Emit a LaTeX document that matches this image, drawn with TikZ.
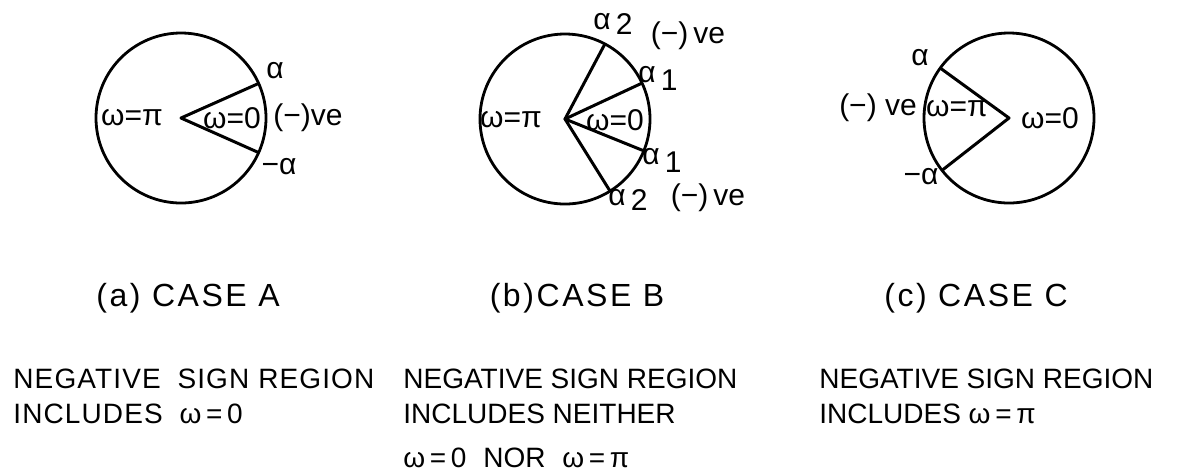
\documentclass[tikz,border=0pt]{standalone}
\usepackage{fontspec}
\usepackage{tikz}
\usetikzlibrary{positioning}
\setmainfont{Liberation Sans}
\newfontfamily\capfont[LetterSpace=8]{Liberation Sans}
\newfontfamily\widefont[LetterSpace=4]{Liberation Sans}
\newcommand{\lblsize}{\fontsize{15}{18}\selectfont}
\newcommand{\txtsize}{\fontsize{14}{17}\selectfont}

\tikzset{
    disc/.style={draw, circle, line width=1.4pt, minimum size=85pt, inner sep=0pt, outer sep=0pt},
    ray/.style={line width=1.5pt, line join=round},
    lbl/.style={inner sep=0pt, font=\lblsize},
    capt/.style={inner sep=0pt, font=\fontsize{16}{19}\selectfont\capfont},
    txt/.style={inner sep=0pt, anchor=west, font=\txtsize}
}

\begin{document}
\begin{tikzpicture}[x=0.5pt, y=-0.5pt]
\useasboundingbox (0,0) rectangle (1178,473);

% case A
\node[disc] (cA) at (181,118) {};
\draw[ray] (cA.24) -- (cA.center) -- (cA.-24);
\node[lbl] (piA) at (132,118) {ω=π};
\node[lbl] (zeroA) at (232,118) {ω=0};
\node[lbl] (alA) at (275,71) {α};
\node[lbl] (malA) at (279,167) {−α};
\node[lbl] (veA) at (308,118) {(−)ve};

% case B
\node[disc] (cB) at (565,119) {};
\draw[ray] (cB.62) -- (cB.center) -- (cB.-58);
\draw[ray] (cB.25) -- (cB.center) -- (cB.-22);
\node[lbl] (piB) at (511,120) {ω=π};
\node[lbl] (zeroB) at (615,120) {ω=0};
\node[lbl] (atwoB) at (613,24) {α\,\raisebox{-0.35ex}{2}};
\node[lbl] (veB) at (688,36) {(−)\,ve};
\node[lbl] (aoneB) at (658,78) {α\,\raisebox{-0.5ex}{1}};
\node[lbl] (bonedB) at (662,160) {α\,\raisebox{-0.5ex}{1}};
\node[lbl] (btwoB) at (628,200) {α\,\raisebox{-0.35ex}{2}};
\node[lbl] (vebB) at (708,198) {(−)\,ve};

% case C
\node[disc] (cC) at (1009,118) {};
\draw[ray] (cC.144) -- (cC.center) -- (cC.218);
\node[lbl] (piC) at (957,109) {ω=π};
\node[lbl] (zeroC) at (1050,118) {ω=0};
\node[lbl] (alC) at (920,58) {α};
\node[lbl] (malC) at (921,177) {−α};
\node[lbl] (veC) at (878,108) {(−) ve};

% captions
\node[capt] (capA) at (188,298) {(a) CASE\ A};
\node[capt] (capB) at (577,298) {(b)CASE\ B};
\node[capt] (capC) at (976,298) {(c) CASE\ C};

\node[txt] (nA1) at (13,379) {\widefont NEGATIVE\hspace{0.6em}SIGN REGION};
\node[txt] (nA2) at (13,414) {\widefont INCLUDES\hspace{0.6em}ω\,=\,0};
\node[txt] (nB1) at (403,379) {NEGATIVE SIGN REGION};
\node[txt] (nB2) at (403,414) {INCLUDES NEITHER};
\node[txt] (nB3) at (403,458) {ω\,=\,0\hspace{0.6em}NOR\hspace{0.6em}ω\,=\,π};
\node[txt] (nC1) at (819,379) {NEGATIVE SIGN REGION};
\node[txt] (nC2) at (819,414) {INCLUDES ω\,=\,π};
\end{tikzpicture}
\end{document}
